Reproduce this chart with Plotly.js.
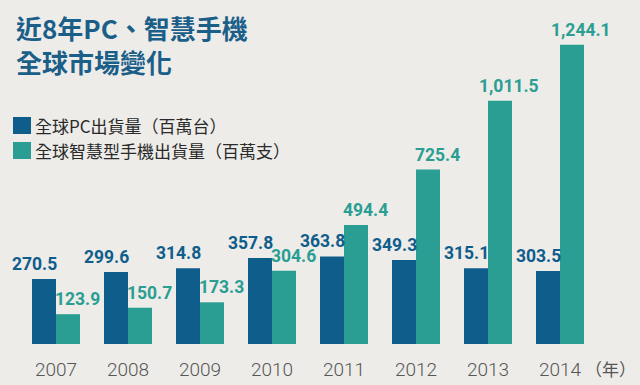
<!DOCTYPE html>
<html>
<head>
<meta charset="utf-8">
<script src="https://cdn.plot.ly/plotly-3.0.1.min.js"></script>
<style>
html,body{margin:0;padding:0;background:#edece9;}
#chart{width:640px;height:385px;}
</style>
</head>
<body>
<div id="chart"></div>
<script>
const years = ['2007','2008','2009','2010','2011','2012','2013','2014'];
const pcShipments = [270.5, 299.6, 314.8, 357.8, 363.8, 349.3, 315.1, 303.5];
const phoneShipments = [123.9, 150.7, 173.3, 304.6, 494.4, 725.4, 1011.5, 1244.1];
const seriesNames = ['全球PC出貨量（百萬台）', '全球智慧型手機出貨量（百萬支）'];
const titleLines = ['近8年PC、智慧手機', '全球市場變化'];
const unitLabel = '（年）';

const pcColor = '#0f5d8b';
const phoneColor = '#2a9e92';
const numFont = 'Roboto, Liberation Sans, sans-serif';
const cjkFont = 'Noto Sans CJK TC, Noto Sans CJK SC, sans-serif';

function fmt(v){ return v.toLocaleString('en-US',{minimumFractionDigits:1, maximumFractionDigits:1}); }

const traces = [
  {type:'bar', name:seriesNames[0], x:years, y:pcShipments, marker:{color:pcColor}, hoverinfo:'skip', showlegend:false},
  {type:'bar', name:seriesNames[1], x:years, y:phoneShipments, marker:{color:phoneColor}, hoverinfo:'skip', showlegend:false}
];

const W = 640, H = 385, PW = 576, PH = 344;
const annotations = [];
years.forEach((yr,i)=>{
  annotations.push({x:i, y:pcShipments[i], xref:'x', yref:'y', text:'<b>'+fmt(pcShipments[i])+'</b>', showarrow:false,
    xanchor:'center', yanchor:'bottom', xshift:-22, yshift:3,
    font:{family:numFont, size:17.5, color:pcColor}});
  annotations.push({x:i, y:phoneShipments[i], xref:'x', yref:'y', text:'<b>'+fmt(phoneShipments[i])+'</b>', showarrow:false,
    xanchor:'center', yanchor:'bottom', xshift:21, yshift:3,
    font:{family:numFont, size:17.5, color:phoneColor}});
});
// unit label
annotations.push({xref:'paper', yref:'paper', x:(610-20)/PW, y:(344-369)/PH, xanchor:'center', yanchor:'middle',
  text:unitLabel, showarrow:false, font:{family:cjkFont, size:17, color:'#555'}});
// title (two lines)
annotations.push({xref:'paper', yref:'paper', x:(14-20)/PW, y:(344-44)/PH, xanchor:'left', yanchor:'middle',
  align:'left', text:titleLines.map(t=>'<b>'+t+'</b>').join('<br>'), showarrow:false,
  font:{family:cjkFont, size:26, color:'#1b5f89'}});

// manual legend
const legendColors = [pcColor, phoneColor];
const legendTops = [117, 142];
const shapes = [];
seriesNames.forEach((nm,k)=>{
  const top = legendTops[k];
  shapes.push({type:'rect', xref:'paper', yref:'paper', layer:'above',
    x0:(13-20)/PW, x1:(31-20)/PW, y0:(344-(top+17))/PH, y1:(344-top)/PH,
    fillcolor:legendColors[k], line:{width:0}});
  annotations.push({xref:'paper', yref:'paper', x:(33-20)/PW, y:(344-(top+8.5))/PH, xanchor:'left', yanchor:'middle',
    text:nm, showarrow:false, font:{family:cjkFont, size:17, color:'#2a2a2a'}});
});

const layout = {
  width:W, height:H,
  paper_bgcolor:'#edece9', plot_bgcolor:'#edece9',
  margin:{l:20, r:44, t:0, b:41, pad:0, autoexpand:false},
  barmode:'group', bargap:1/3, bargroupgap:0,
  xaxis:{type:'category', range:[-0.5,7.5], showgrid:false, zeroline:false, showline:false, ticks:'',
    tickangle:0, automargin:false,
    tickfont:{family:numFont, size:19, color:'#555', weight:300}, ticklabelstandoff:12, fixedrange:true},
  yaxis:{range:[0,1430], visible:false, showgrid:false, zeroline:false, fixedrange:true, automargin:false},
  showlegend:false,
  annotations:annotations,
  shapes:shapes
};

Plotly.newPlot('chart', traces, layout, {displayModeBar:false, staticPlot:true});
</script>
</body>
</html>
